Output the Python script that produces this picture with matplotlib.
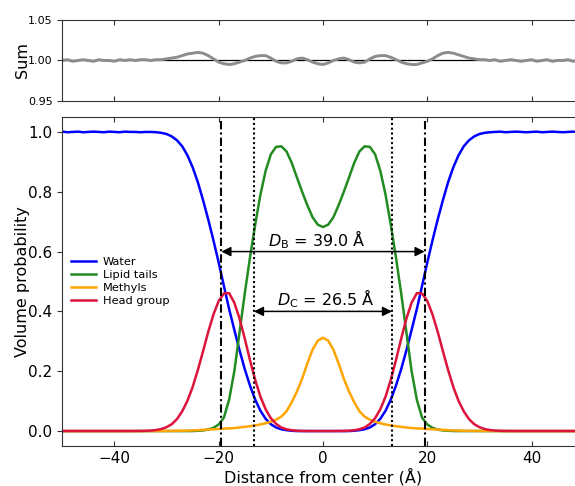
import matplotlib
matplotlib.use("Agg")
import matplotlib.pyplot as plt

# distance from bilayer center, 1 A steps
distance = list(range(-50, 51))

# volume probabilities, rows of 10 starting at -50, -40, ... , 40 (+ last point at 50)
water = [
    1.001, 0.999, 1.000, 1.001, 0.999, 1.000, 1.001, 1.000, 0.999, 1.001,
    1.000, 0.999, 1.001, 1.000, 1.000, 0.999, 1.000, 1.000, 0.999, 0.997,
    0.993, 0.985, 0.972, 0.952, 0.922, 0.882, 0.832, 0.772, 0.707, 0.637,
    0.563, 0.485, 0.408, 0.338, 0.270, 0.207, 0.152, 0.105, 0.068, 0.041,
    0.023, 0.012, 0.006, 0.003, 0.001, 0.000, 0.000, 0.000, 0.000, 0.000,
    0.000, 0.000, 0.000, 0.000, 0.000, 0.000, 0.001, 0.003, 0.006, 0.012,
    0.023, 0.041, 0.068, 0.105, 0.152, 0.207, 0.270, 0.338, 0.408, 0.485,
    0.563, 0.637, 0.707, 0.772, 0.832, 0.882, 0.922, 0.952, 0.972, 0.985,
    0.993, 0.997, 0.999, 1.000, 1.001, 0.999, 1.000, 1.001, 1.000, 0.999,
    1.000, 1.001, 0.999, 1.000, 1.001, 1.000, 0.999, 1.000, 1.001, 1.000,
    0.999,
]
tails = [
    0.000, 0.000, 0.000, 0.000, 0.000, 0.000, 0.000, 0.000, 0.000, 0.000,
    0.000, 0.000, 0.000, 0.000, 0.000, 0.000, 0.000, 0.000, 0.000, 0.000,
    0.000, 0.000, 0.000, 0.000, 0.000, 0.000, 0.001, 0.002, 0.005, 0.011,
    0.022, 0.045, 0.105, 0.200, 0.330, 0.460, 0.580, 0.690, 0.790, 0.870,
    0.925, 0.950, 0.952, 0.935, 0.897, 0.848, 0.800, 0.755, 0.715, 0.690,
    0.682, 0.690, 0.715, 0.755, 0.800, 0.848, 0.897, 0.935, 0.952, 0.950,
    0.925, 0.870, 0.790, 0.690, 0.580, 0.460, 0.330, 0.200, 0.105, 0.045,
    0.022, 0.011, 0.005, 0.002, 0.001, 0.000, 0.000, 0.000, 0.000, 0.000,
    0.000, 0.000, 0.000, 0.000, 0.000, 0.000, 0.000, 0.000, 0.000, 0.000,
    0.000, 0.000, 0.000, 0.000, 0.000, 0.000, 0.000, 0.000, 0.000, 0.000,
    0.000,
]
methyls = [
    0.0, 0.0, 0.0, 0.0, 0.0, 0.0, 0.0, 0.0, 0.0, 0.0,
    0.0, 0.0, 0.0, 0.0, 0.0, 0.0, 0.0, 0.0, 0.0001, 0.0002,
    0.0003, 0.0005, 0.0007, 0.001, 0.0015, 0.002, 0.003, 0.004, 0.005, 0.006,
    0.007, 0.008, 0.009, 0.010, 0.012, 0.014, 0.016, 0.019, 0.022, 0.026,
    0.031, 0.038, 0.048, 0.066, 0.096, 0.132, 0.175, 0.226, 0.272, 0.302,
    0.312, 0.302, 0.272, 0.226, 0.175, 0.132, 0.096, 0.066, 0.048, 0.038,
    0.031, 0.026, 0.022, 0.019, 0.016, 0.014, 0.012, 0.010, 0.009, 0.008,
    0.007, 0.006, 0.005, 0.004, 0.003, 0.002, 0.0015, 0.001, 0.0007, 0.0005,
    0.0003, 0.0002, 0.0001, 0.0, 0.0, 0.0, 0.0, 0.0, 0.0, 0.0,
    0.0, 0.0, 0.0, 0.0, 0.0, 0.0, 0.0, 0.0, 0.0, 0.0,
    0.0,
]
heads = [
    0.0, 0.0, 0.0, 0.0, 0.0, 0.0, 0.0, 0.0, 0.0, 0.0,
    0.0, 0.0, 0.0, 0.0, 0.0001, 0.0003, 0.0007, 0.0016, 0.0034, 0.0068,
    0.013, 0.023, 0.040, 0.066, 0.101, 0.147, 0.204, 0.267, 0.332, 0.390,
    0.435, 0.460, 0.461, 0.429, 0.376, 0.309, 0.237, 0.171, 0.115, 0.073,
    0.043, 0.024, 0.012, 0.006, 0.0027, 0.0011, 0.0004, 0.0001, 0.0, 0.0,
    0.0, 0.0, 0.0, 0.0001, 0.0004, 0.0011, 0.0027, 0.006, 0.012, 0.024,
    0.043, 0.073, 0.115, 0.171, 0.237, 0.309, 0.376, 0.429, 0.461, 0.460,
    0.435, 0.390, 0.332, 0.267, 0.204, 0.147, 0.101, 0.066, 0.040, 0.023,
    0.013, 0.0068, 0.0034, 0.0016, 0.0007, 0.0003, 0.0001, 0.0, 0.0, 0.0,
    0.0, 0.0, 0.0, 0.0, 0.0, 0.0, 0.0, 0.0, 0.0, 0.0,
    0.0,
]
# sum of all components
total = [
    1.000, 1.001, 0.999, 1.000, 1.001, 1.000, 0.999, 1.001, 1.000, 1.000,
    0.999, 1.001, 1.000, 1.001, 1.000, 1.001, 1.001, 1.000, 1.001, 1.001,
    1.002, 1.003, 1.004, 1.006, 1.008, 1.009, 1.010, 1.009, 1.006, 1.002,
    0.998, 0.996, 0.995, 0.996, 0.998, 1.000, 1.003, 1.005, 1.006, 1.006,
    1.003, 0.999, 0.997, 0.997, 0.999, 1.002, 1.003, 1.001, 0.998, 0.996,
    0.995, 0.997, 1.000, 1.002, 1.003, 1.001, 0.998, 0.997, 0.998, 1.002,
    1.005, 1.006, 1.006, 1.004, 1.001, 0.998, 0.996, 0.995, 0.995, 0.997,
    0.999, 1.002, 1.006, 1.009, 1.010, 1.009, 1.007, 1.005, 1.003, 1.002,
    1.001, 1.001, 1.000, 1.001, 0.999, 1.000, 1.001, 1.000, 0.999, 1.000,
    1.001, 0.999, 1.000, 1.001, 0.999, 1.000, 1.000, 1.001, 0.999, 1.000,
    1.000,
]

series = [water, tails, methyls, heads]
labels = ["Water", "Lipid tails", "Methyls", "Head group"]
colors = ["blue", "forestgreen", "orange", "crimson"]

D_B = 39.0  # bilayer thickness
D_C = 26.5  # hydrophobic core thickness

fig = plt.figure(figsize=(5.75, 4.86), dpi=100)
ax_top = fig.add_axes([0.1083, 0.7922, 0.9068, 0.1667])
ax = fig.add_axes([0.1083, 0.0823, 0.9068, 0.677])

spine_col = "#333333"
for a in (ax_top, ax):
    for s in a.spines.values():
        s.set_color(spine_col)
    a.set_xlim(-50, 50)
    a.set_xticks([-40, -20, 0, 20, 40])
    a.tick_params(axis="x", direction="in", top=True, color=spine_col)
    a.tick_params(axis="y", direction="out", color=spine_col)

# top: sum
ax_top.axhline(1.0, color="black", lw=0.9, zorder=1)
ax_top.plot(distance, total, color="#8c8c8c", lw=2.1, zorder=2)
ax_top.set_ylim(0.95, 1.05)
ax_top.set_yticks([0.95, 1.00, 1.05])
ax_top.set_yticklabels(["0.95", "1.00", "1.05"])
ax_top.tick_params(axis="x", labelbottom=False)
ax_top.tick_params(axis="y", labelsize=8)
ax_top.set_ylabel("Sum", fontsize=11.5)

# bottom: components
for y, lab, c in zip(series, labels, colors):
    ax.plot(distance, y, color=c, lw=1.8, label=lab)

for x in (-D_B / 2, D_B / 2):
    ax.axvline(x, color="black", lw=1.5, ls=(0, (4, 1.5, 1, 1.5)))
for x in (-D_C / 2, D_C / 2):
    ax.axvline(x, color="black", lw=1.5, ls=(0, (1, 1.3)))

arrow = dict(arrowstyle="<|-|>", color="black", lw=1.1,
             shrinkA=0, shrinkB=0, mutation_scale=14)
ax.annotate("", xy=(-D_B / 2, 0.6), xytext=(D_B / 2, 0.6), arrowprops=arrow)
ax.annotate("", xy=(-D_C / 2, 0.4), xytext=(D_C / 2, 0.4), arrowprops=arrow)
ax.text(-1.1, 0.619, r"$D_\mathrm{B}$ = %.1f Å" % D_B, ha="center",
        va="baseline", fontsize=11.5)
ax.text(0.5, 0.421, r"$D_\mathrm{C}$ = %.1f Å" % D_C, ha="center",
        va="baseline", fontsize=11.5)

ax.set_ylim(-0.05, 1.05)
ax.set_yticks([0.0, 0.2, 0.4, 0.6, 0.8, 1.0])
ax.tick_params(labelsize=11)
ax.set_xlabel("Distance from center (Å)", fontsize=11.5, labelpad=1.5)
ax.set_ylabel("Volume probability", fontsize=11.5)

ax.legend(loc="upper left", bbox_to_anchor=(0.016, 0.573), frameon=False,
          fontsize=8.2, handlelength=2.2, handletextpad=0.6,
          labelspacing=0.26, borderpad=0, borderaxespad=0)

ax_top.yaxis.set_label_coords(-0.062, 0.5)
ax.yaxis.set_label_coords(-0.062, 0.5)

fig.savefig("out.png", dpi=100)
